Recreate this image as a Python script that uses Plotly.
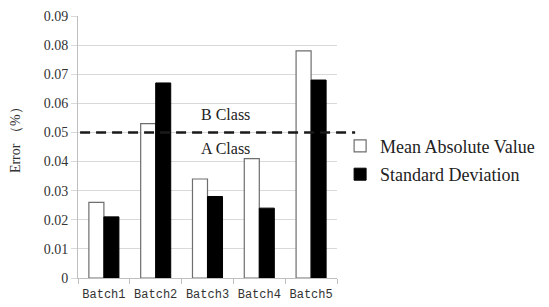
import plotly.graph_objects as go

categories = ["Batch1", "Batch2", "Batch3", "Batch4", "Batch5"]
mean_abs = [0.026, 0.053, 0.034, 0.041, 0.078]
std_dev = [0.021, 0.067, 0.028, 0.024, 0.068]
y_ticks = [0, 0.01, 0.02, 0.03, 0.04, 0.05, 0.06, 0.07, 0.08, 0.09]
y_tick_text = ["0", "0.01", "0.02", "0.03", "0.04", "0.05", "0.06", "0.07", "0.08", "0.09"]
threshold = 0.05

serif = "Liberation Serif, Times New Roman, serif"

fig = go.Figure()
fig.add_trace(go.Bar(
    x=categories, y=mean_abs, name="Mean Absolute Value",
    marker=dict(color="white", line=dict(color="#6e6e6e", width=1.2)),
    legendgroup="a",
))
fig.add_trace(go.Bar(
    x=categories, y=std_dev, name="Standard Deviation",
    marker=dict(color="black", line=dict(color="black", width=1)),
    legendgroup="b",
))

fig.add_shape(type="line", xref="paper", yref="y", x0=0.008, x1=1.07,
              y0=threshold, y1=threshold,
              line=dict(color="#1a1a1a", width=2.5, dash="10px,6px"))

fig.add_annotation(text="B Class", xref="paper", yref="y", x=0.568, y=0.056,
                   showarrow=False, font=dict(family=serif, size=16, color="#222"))
fig.add_annotation(text="A Class", xref="paper", yref="y", x=0.568, y=0.0445,
                   showarrow=False, font=dict(family=serif, size=16, color="#222"))
fig.add_annotation(text="Error （%）", xref="paper", yref="paper", x=-0.243, y=0.538,
                   xanchor="center", yanchor="middle", textangle=-90,
                   showarrow=False, font=dict(family=serif, size=14, color="#333"))

fig.update_layout(
    width=549, height=307,
    margin=dict(l=78, r=212, t=16, b=29, autoexpand=False),
    plot_bgcolor="white", paper_bgcolor="white",
    barmode="group", bargap=0.42, bargroupgap=0,
    showlegend=True,
    legend=dict(x=1.012, y=0.45, xanchor="left", yanchor="middle",
                font=dict(family=serif, size=18, color="#222"),
                traceorder="grouped", tracegroupgap=2,
                bgcolor="rgba(0,0,0,0)"),
    xaxis=dict(
        automargin=False, tickangle=0, ticklabelstandoff=5,
        showline=True, linecolor="#bfbfbf", linewidth=1,
        ticks="outside", tickson="boundaries", ticklen=5, tickcolor="#bfbfbf",
        tickfont=dict(family="Liberation Mono, monospace", size=12, color="#333"),
        showgrid=False,
    ),
    yaxis=dict(
        automargin=False,
        range=[0, 0.09], tickvals=y_ticks, ticktext=y_tick_text,
        showline=True, linecolor="#bfbfbf", linewidth=1,
        ticks="outside", ticklen=6, tickcolor="#d9d9d9",
        showgrid=True, gridcolor="#d9d9d9", gridwidth=1,
        zeroline=False,
        tickfont=dict(family=serif, size=14, color="#333"),
    ),
)

fig.write_html("out.html", config={"displayModeBar": False},
               post_script="document.body.style.margin='0';document.body.style.overflow='hidden';")
